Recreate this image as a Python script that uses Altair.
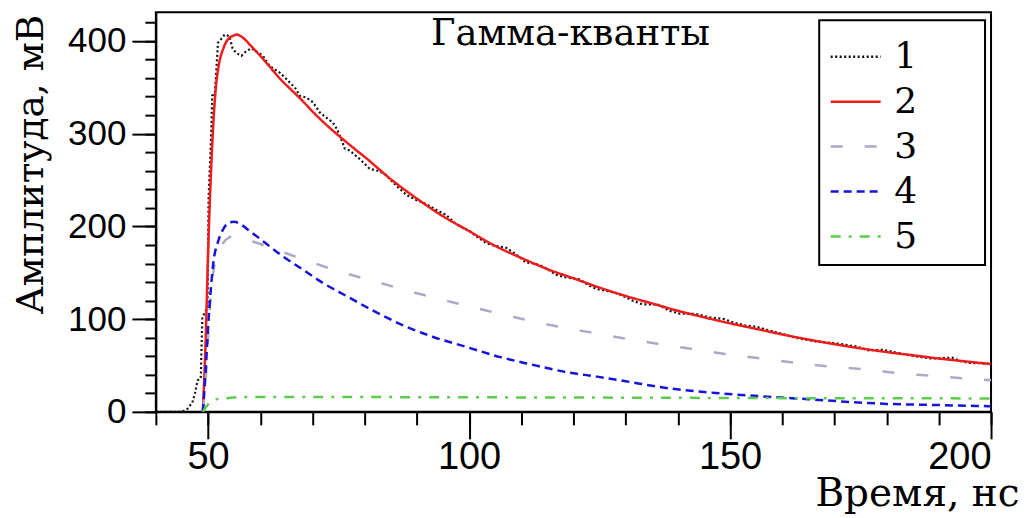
import altair as alt
import pandas as pd

# ---- data ----
series_names = ["1", "2", "3", "4", "5"]
series_colors = ["#111111", "#ee1c1c", "#aaaac8", "#1414dc", "#5ccc4c"]
series_dashes = [[2, 2.5], [1, 0], [12, 22], [8, 5], [10, 8, 3, 8]]

t1 = [40, 44, 45, 46, 47, 47.5, 48, 48.6, 48.9, 49.5, 49.9, 50.1, 50.6, 50.8, 51.3,
      51.6, 51.9, 52.5, 53.2, 54.1, 54.7, 55.4, 56.4, 57.3, 58.3, 59.2, 60.5, 61.8,
      63.7, 65, 66.9, 67.5, 68.8, 70.1, 71.4, 72.5, 73.9, 74.8, 76.2, 77.1, 79, 81,
      82.5, 83.8, 85.7, 88, 89.9, 91.8, 93.7, 95.6, 97.6, 100.1, 101.5, 103.3, 105,
      107.1, 109, 110.9, 112.5, 114.1, 116.6, 118.6, 121.1, 123.7, 124.9, 126.8, 128.8,
      131.3, 133.2, 136.1, 138.4, 140.3, 143.5, 146, 148.9, 150.5, 153, 154.9, 157.5,
      160, 163.2, 166.4, 170.2, 174.1, 176.6, 179.2, 182.3, 185.5, 188.7, 190.5, 192.5,
      194, 195.8, 197.5, 199.5]
v1 = [0, 0, 0, 3, 10, 20, 34, 36, 102, 108, 115, 230, 300, 341, 343,
      370, 398, 402, 407, 405, 392, 387, 384, 389, 392, 389, 384, 373,
      366, 359, 348, 341, 339, 334, 323, 318, 312, 304, 284, 282, 273, 262,
      260, 257, 246, 234, 228.5, 224, 218, 212.5, 202, 195, 189, 182, 179,
      177, 170, 161, 160, 157, 148, 145, 143, 134, 132, 130, 127,
      120, 116, 116, 109, 106, 105.5, 102, 100, 96.6, 93, 92, 87.7,
      84, 79, 76, 74, 70.6, 66.3, 67, 63.4, 59.9, 57.4, 58, 58.5,
      55, 52.8, 52.5, 52]

t2 = [49, 49.5, 50, 50.5, 51, 51.5, 52, 53, 54, 55, 55.5, 56, 57, 58, 60, 62, 64, 66,
      68, 70, 72, 75, 78, 80, 85, 90, 95, 100, 105, 110, 115, 120, 125, 130, 135, 140,
      145, 150, 155, 160, 165, 170, 175, 180, 185, 190, 195, 200]
v2 = [0, 70, 170, 250, 310, 350, 372, 393, 403, 406, 407, 406, 402, 396, 384, 371, 358, 347,
      336, 324, 313, 298, 284, 275, 251, 230, 211, 195, 179, 166, 154, 144, 134, 125, 117, 109,
      102, 95.5, 89.5, 83.5, 78, 73, 68.5, 64.5, 61, 57.5, 54.5, 51.5]

t3 = [49, 49.5, 50, 50.5, 51, 52, 53, 54, 55, 56, 58, 60, 64, 70, 76, 83, 90, 97, 103.5,
      110, 117, 123, 129, 136, 142.5, 149, 156, 162.5, 169, 176, 183, 189.5, 196, 200]
v3 = [0, 30, 80, 125, 150, 172, 183, 188, 190, 189, 185, 181, 173, 161, 150, 139, 128, 118, 109,
      100.5, 92, 86, 80, 73.5, 68, 62.5, 57.5, 53, 49, 45.6, 41.4, 38.5, 35.6, 34]

t4 = [49, 49.5, 50, 50.5, 51, 52, 53, 54, 55, 56, 58, 61, 64, 68, 72, 76.5, 82, 87.5, 93,
      99.5, 106, 112, 118.5, 124.5, 130, 137.5, 148, 159, 165, 172, 180, 190, 197, 200]
v4 = [0, 40, 90, 130, 160, 185, 198, 204, 205, 203, 195, 182, 169, 154, 139, 125, 108, 93, 81,
      70, 59, 51, 43, 38, 33, 26, 20, 15.7, 13.6, 11, 8.6, 7.3, 6.4, 6]

t5 = [49, 50, 51, 52, 54, 56, 70, 100, 130, 160, 200]
v5 = [0, 8, 12, 14, 15, 16, 16, 15.7, 15.3, 14.8, 14.5]

x_major = [50, 100, 150, 200]
x_minor = list(range(40, 201, 10))
y_major = [0, 100, 200, 300, 400]
y_minor = list(range(0, 421, 20))

title_text = "Гамма-кванты"
x_title = "Время, нс"
y_title = "Амплитуда, мВ"

# ---- build tables ----
def frame(name, ts, vs):
    return pd.DataFrame({"t": ts, "v": vs, "s": [name] * len(ts)})

df_data = frame("1", t1, v1)
df_fit = pd.concat([frame("2", t2, v2), frame("3", t3, v3),
                    frame("4", t4, v4), frame("5", t5, v5)], ignore_index=True)

SERIF = "DejaVu Serif"
SANS = "Liberation Sans"
xs = alt.Scale(domain=[40, 200], nice=False, zero=False)
ys = alt.Scale(domain=[0, 431], nice=False)

x_major_enc = alt.X("t:Q", scale=xs,
                    axis=alt.Axis(values=x_major, title=x_title, orient="bottom",
                                  tickSize=27, tickColor="black", tickWidth=2,
                                  labelFont=SANS, labelFontSize=38, labelPadding=30,
                                  labelBaseline="alphabetic", labelColor="black",
                                  titleFont=SERIF, titleFontSize=39, titleFontWeight="normal",
                                  titleAnchor="end", titleAlign="right", titleBaseline="alphabetic",
                                  titleX=864, titleY=94, titleColor="black",
                                  domainColor="black", domainWidth=2, grid=False))
y_major_enc = alt.Y("v:Q", scale=ys,
                    axis=alt.Axis(values=y_major, title=y_title, orient="left",
                                  tickSize=24, tickColor="black", tickWidth=2,
                                  labelFont=SANS, labelFontSize=35, labelPadding=6,
                                  labelColor="black",
                                  titleFont=SERIF, titleFontSize=37.5, titleFontWeight="normal",
                                  titleAngle=270, titleAlign="center", titleBaseline="alphabetic",
                                  titleX=-113, titleY=152, titleColor="black",
                                  domainColor="black", domainWidth=2, grid=False))
x_minor_enc = alt.X("t:Q", scale=xs,
                    axis=alt.Axis(values=x_minor, title=None, orient="bottom", labels=False,
                                  domain=False, tickSize=13, tickColor="black", tickWidth=2,
                                  grid=False))
y_minor_enc = alt.Y("v:Q", scale=ys,
                    axis=alt.Axis(values=y_minor, title=None, orient="left", labels=False,
                                  domain=False, tickSize=11, tickColor="black", tickWidth=2,
                                  grid=False))

color_enc = alt.Color("s:N", scale=alt.Scale(domain=series_names, range=series_colors),
                      legend=alt.Legend(title="\u2003", titleOrient="right", titlePadding=58,
                                        titleFontSize=36, orient="none", legendX=664, legendY=8,
                                        symbolType="stroke", symbolSize=2500, symbolStrokeWidth=2.5,
                                        labelFont=SERIF, labelFontSize=36, labelOffset=12,
                                        rowPadding=0, padding=10, strokeColor="black",
                                        fillColor="white", cornerRadius=0, labelColor="black"))
dash_enc = alt.StrokeDash("s:N", scale=alt.Scale(domain=series_names, range=series_dashes),
                          legend=alt.Legend(title="\u2003"))

data_layer = alt.Chart(df_data).mark_line(strokeWidth=2.2, clip=True).encode(
    x=x_major_enc, y=y_major_enc, color=color_enc, strokeDash=dash_enc)
fit_layer = alt.Chart(df_fit).mark_line(strokeWidth=2.5, interpolate="monotone", clip=True).encode(
    x=x_minor_enc, y=y_minor_enc, color=color_enc, strokeDash=dash_enc)
title_layer = alt.Chart(pd.DataFrame({"txt": [title_text]})).mark_text(
    font=SERIF, fontSize=37, align="center", baseline="alphabetic", color="black").encode(
    x=alt.value(415), y=alt.value(33), text="txt:N")

chart = alt.layer(data_layer, fit_layer, title_layer).resolve_axis(
    x="independent", y="independent"
).properties(
    width=836, height=400,
    autosize=alt.AutoSizeParams(type="none"),
    padding={"left": 148, "top": 4, "right": 30, "bottom": 104},
    background="white",
).configure_view(stroke="black", strokeWidth=2).configure_legend(strokeWidth=2)

chart.save("out.html", embed_options={"renderer": "svg", "actions": False})
